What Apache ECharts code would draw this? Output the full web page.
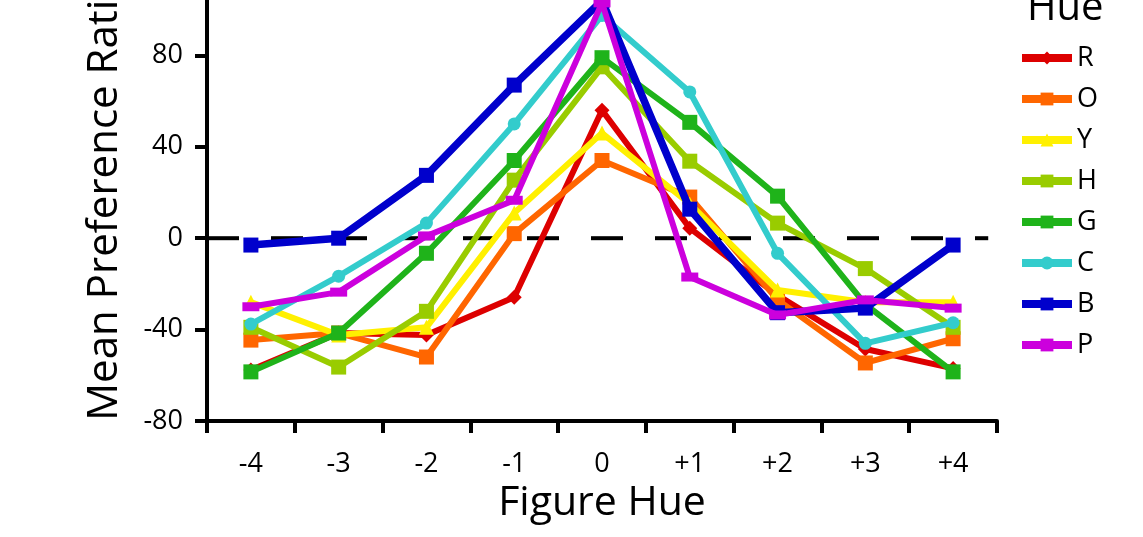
<!DOCTYPE html>
<html>
<head>
<meta charset="utf-8">
<script src="https://cdn.jsdelivr.net/npm/echarts@6/dist/echarts.min.js"></script>
<style>
  html, body { margin: 0; padding: 0; background: #fff; }
  #chart { width: 1143px; height: 537px; }
</style>
</head>
<body>
<div id="chart"></div>
<script>
const hues = ["-4", "-3", "-2", "-1", "0", "+1", "+2", "+3", "+4"];
const names = ["R", "O", "Y", "H", "G", "C", "B", "P"];
const colors = ["#dd0000", "#ff6600", "#fff000", "#99cc00", "#1fb31a", "#33cccc", "#0000cc", "#cc00dd"];
const symbols = ["diamond", "rect", "triangle", "rect", "rect", "circle", "rect", "rect"];

const rData = [-57.7, -41.5, -42.4, -25.8, 56, 4.4, -25, -48.5, -57];
const oData = [-44.6, -41.5, -52, 2, 34, 18, -27, -54.6, -44];
const yData = [-28, -42.4, -39, 11, 46, 15, -22.7, -28, -28];
const hData = [-39, -56.4, -32, 25.4, 75, 33.7, 6.6, -13.3, -39];
const gData = [-58.5, -41.5, -6.6, 34, 79, 50.7, 18.4, -29, -58.5];
const cData = [-37.6, -16.6, 6.6, 50, 97.5, 64, -6.6, -46, -37];
const bData = [-3, 0, 27.5, 67, 104, 12.7, -32.6, -30.6, -3];
const pData = [-30, -23.6, 1, 16.6, 103, -17, -33.6, -27, -30.6];
const allData = [rData, oData, yData, hData, gData, cData, bData, pData];

// zero reference line, from the y axis to the end of the plot
const zeroLine = [[0, 0], [8.9, 0]];

const font = "Open Sans";

const series = [
  {
    name: "zero",
    type: "line",
    xAxisIndex: 1,
    data: zeroLine,
    symbol: "none",
    silent: true,
    z: 1,
    lineStyle: { color: "#000", width: 4, type: [32, 32] },
  },
];
names.forEach((n, i) => {
  let size = 15;
  if (symbols[i] === "circle") size = 13;
  if (n === "P") size = [17, 9];
  series.push({
    name: n,
    type: "line",
    data: allData[i],
    symbol: symbols[i],
    symbolSize: size,
    color: colors[i],
    z: 2 + i,
    lineStyle: { width: n === "B" ? 7.5 : 6, color: colors[i] },
    itemStyle: { color: colors[i] },
    emphasis: { disabled: true },
  });
});

const chart = echarts.init(document.getElementById("chart"));
chart.setOption({
  animation: false,
  textStyle: { fontFamily: font },
  title: {
    text: "Hue",
    left: 1022,
    top: -16,
    textStyle: { fontSize: 40, fontWeight: "normal", color: "#000", fontFamily: font },
  },
  legend: {
    orient: "vertical",
    left: 1013,
    top: 38,
    itemWidth: 50,
    itemHeight: 16,
    itemGap: 11,
    data: names,
    lineStyle: { width: 8 },
    textStyle: { fontSize: 27, color: "#000", fontFamily: font, lineHeight: 30 },
  },
  grid: {
    left: 207,
    right: 146,
    top: -36,
    bottom: 116,
    containLabel: false,
    outerBoundsMode: "none",
  },
  xAxis: [
    {
      type: "category",
      data: hues,
      name: "Figure Hue",
      nameLocation: "middle",
      nameGap: 60,
      nameTextStyle: { fontSize: 41, color: "#000", fontFamily: font },
      axisLine: { onZero: false, lineStyle: { color: "#000", width: 4 } },
      axisTick: { show: true, interval: 0, length: 12, lineStyle: { width: 4, color: "#000" } },
      axisLabel: { fontSize: 27, color: "#000", margin: 30, fontFamily: font },
    },
    {
      type: "value",
      min: 0,
      max: 9,
      show: false,
    },
  ],
  yAxis: {
    type: "value",
    min: -80,
    max: 120,
    interval: 40,
    name: "Mean Preference Ratio",
    nameLocation: "middle",
    nameGap: 76,
    nameTextStyle: { fontSize: 42, color: "#000", fontFamily: font, padding: [0, 10, 0, 0] },
    axisLine: { show: true, lineStyle: { color: "#000", width: 4 } },
    axisTick: { show: true, length: 12, lineStyle: { width: 4, color: "#000" } },
    axisLabel: { fontSize: 27, color: "#000", margin: 24, fontFamily: font },
    splitLine: { show: false },
  },
  series: series,
});
</script>
</body>
</html>
